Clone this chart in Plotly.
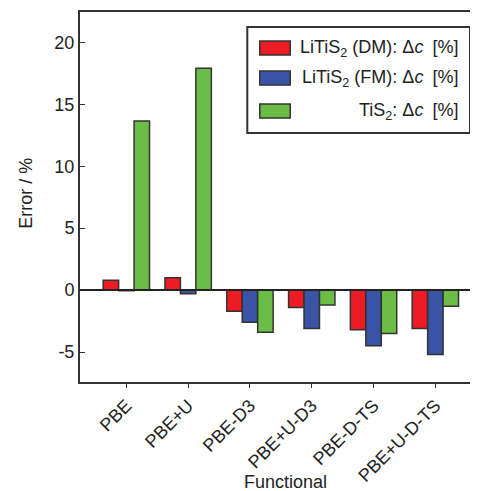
import plotly.graph_objects as go

categories = ["PBE", "PBE+U", "PBE-D3", "PBE+U-D3", "PBE-D-TS", "PBE+U-D-TS"]
litis2_dm = [0.8, 1.0, -1.7, -1.4, -3.2, -3.1]
litis2_fm = [-0.05, -0.3, -2.6, -3.1, -4.5, -5.2]
tis2 = [13.65, 17.9, -3.4, -1.2, -3.5, -1.3]

series_names = ["LiTiS<sub>2</sub> (DM): Δ<i>c</i>\u2002[%]",
                "LiTiS<sub>2</sub> (FM): Δ<i>c</i>\u2002[%]",
                "TiS<sub>2</sub>: Δ<i>c</i>\u2002[%]"]
colors = ["#ED1C24", "#3A53A4", "#6BBD45"]
y_ticks = [-5, 0, 5, 10, 15, 20]
y_ticktext = ["-5", "0", "5", "10", "15", "20"]

OFF = 8  # default body margin of the page
W, H = 478 - OFF, 491 - OFF
L_abs, T_abs, B_abs = 79.5, 12, 381.7
L, R, T, B = L_abs - OFF, 0, T_abs - OFF, 491 - B_abs
pw, ph = W - L - R, H - T - B

def px(x):
    return (x - L_abs) / pw

def py(y):
    return (B_abs - y) / ph

fig = go.Figure()
x_idx = list(range(len(categories)))
for name, vals, col in zip(series_names, [litis2_dm, litis2_fm, tis2], colors):
    fig.add_trace(go.Bar(x=x_idx, y=vals, name=name,
                         marker=dict(color=col, line=dict(color="#333333", width=1.5)),
                         showlegend=False))

fig.add_hline(y=0, line=dict(color="#222222", width=2))

# legend box
fig.add_shape(type="rect", xref="paper", yref="paper", x0=px(247), x1=px(470), y0=py(27), y1=py(133),
              line=dict(color="#333333", width=2), fillcolor="white", layer="above")
rows = [48, 78, 111]
for name, col, ry in zip(series_names, colors, rows):
    fig.add_shape(type="rect", xref="paper", yref="paper", x0=px(259.5), x1=px(290),
                  y0=py(ry - 7), y1=py(ry + 7),
                  line=dict(color="#333333", width=1.5), fillcolor=col, layer="above")
    fig.add_annotation(xref="paper", yref="paper", x=px(460), y=py(ry), text=name, showarrow=False,
                       xanchor="right", yanchor="middle", font=dict(size=18, color="#222222"))

# axis titles
fig.add_annotation(xref="paper", yref="paper", x=px(285), y=py(482), text="Functional", showarrow=False,
                   xanchor="center", yanchor="middle", font=dict(size=18, color="#222222"))
fig.add_annotation(xref="paper", yref="paper", x=px(26), y=py(193), text="Error / %", showarrow=False,
                   textangle=-90, xanchor="center", yanchor="middle", font=dict(size=18, color="#222222"))

fig.update_layout(
    width=W, height=H,
    margin=dict(l=L, r=R, t=T, b=B, pad=0),
    paper_bgcolor="white", plot_bgcolor="white",
    barmode="group", bargap=0.25, bargroupgap=0.0,
    font=dict(family="Liberation Sans, Arial, sans-serif", size=18, color="#222222"),
    xaxis=dict(range=[-0.75, 5.69], tickmode="array", tickvals=x_idx, ticktext=categories,
               tickangle=-45, showline=True, linecolor="#333333", linewidth=2, mirror=True,
               ticks="outside", ticklen=4, tickcolor="#333333", showgrid=False, zeroline=False,
               tickfont=dict(size=18)),
    yaxis=dict(range=[-7.42, 22.45], tickmode="array", tickvals=y_ticks, ticktext=y_ticktext,
               showline=True, linecolor="#333333", linewidth=2,
               ticks="inside", ticklen=5, tickcolor="#333333", showgrid=False, zeroline=False,
               tickfont=dict(size=18)),
)

fig.write_html("out.html")
